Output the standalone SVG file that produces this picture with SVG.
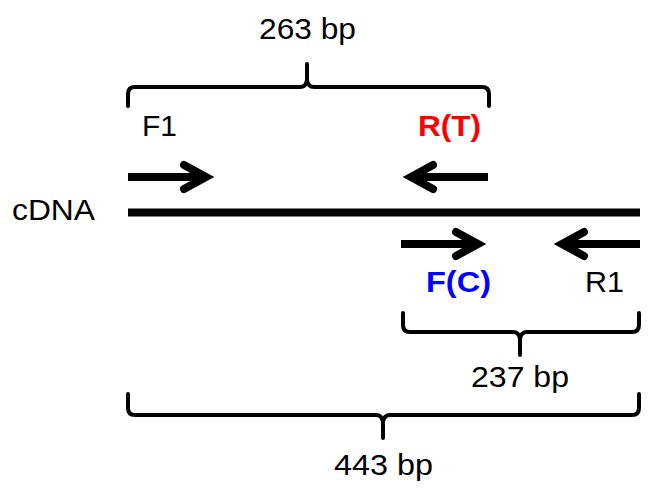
<svg xmlns="http://www.w3.org/2000/svg" width="648" height="489" viewBox="0 0 648 489">
<style>
text{font-family:"Liberation Sans",Arial,sans-serif;font-size:29px;fill:#000}
.b{font-weight:bold}
.brace{fill:none;stroke:#000;stroke-width:4;stroke-linecap:round;stroke-linejoin:round}
.shaft{fill:none;stroke:#000;stroke-width:8}
.head{fill:none;stroke:#000;stroke-width:8;stroke-linecap:round;stroke-linejoin:miter;stroke-miterlimit:10}
</style>
<rect width="648" height="489" fill="#fff"/>
<g id="cdna">
<path class="shaft" d="M128,212.5 H640"/>
<text x="12" y="220" textLength="83" lengthAdjust="spacingAndGlyphs">cDNA</text>
</g>
<g id="F1">
<path class="shaft" d="M128,177 H204"/>
<path class="head" d="M184,165 L206,177 L184,189"/>
<text x="142" y="136" textLength="35" lengthAdjust="spacingAndGlyphs">F1</text>
</g>
<g id="RT">
<path class="shaft" d="M488,177 H413"/>
<path class="head" d="M433,165 L411,177 L433,189"/>
<text class="b" x="418" y="136" textLength="63" lengthAdjust="spacingAndGlyphs" style="fill:#ff0000">R(T)</text>
</g>
<g id="FC">
<path class="shaft" d="M401,244 H476"/>
<path class="head" d="M456,232 L478,244 L456,256"/>
<text class="b" x="426" y="292" textLength="65" lengthAdjust="spacingAndGlyphs" style="fill:#0000ff">F(C)</text>
</g>
<g id="R1">
<path class="shaft" d="M640,244 H564"/>
<path class="head" d="M584,232 L562,244 L584,256"/>
<text x="585" y="292" textLength="39" lengthAdjust="spacingAndGlyphs">R1</text>
</g>
<g id="brace263">
<path class="brace" d="M128,106 V94 Q128,87 135,87 H300 Q306,87 307,80 V64 M307,80 Q308,87 314,87 H482 Q489,87 489,94 V106"/>
<text x="259" y="39" textLength="97" lengthAdjust="spacingAndGlyphs">263 bp</text>
</g>
<g id="brace237">
<path class="brace" d="M403,313 V325 Q403,332 410,332 H513 Q519,332 520,339 V355 M520,339 Q521,332 527,332 H632 Q639,332 639,325 V313"/>
<text x="471" y="387" textLength="98" lengthAdjust="spacingAndGlyphs">237 bp</text>
</g>
<g id="brace443">
<path class="brace" d="M128,394 V408 Q128,415 135,415 H376 Q382,415 383,422 V438 M383,422 Q384,415 390,415 H632 Q639,415 639,408 V394"/>
<text x="334" y="475" textLength="99" lengthAdjust="spacingAndGlyphs">443 bp</text>
</g>
</svg>
